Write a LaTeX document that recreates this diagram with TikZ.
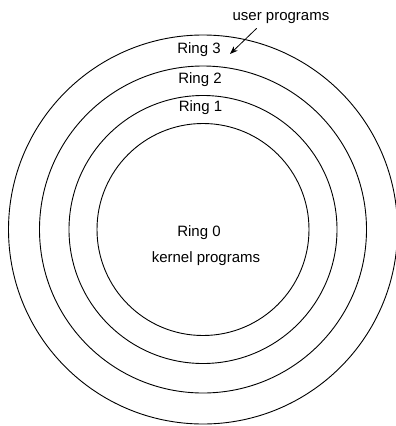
\documentclass[tikz,border=0pt]{standalone}
\usepackage{fontspec}
\setmainfont{Liberation Sans}
\usetikzlibrary{arrows.meta}
\begin{document}
\begin{tikzpicture}[x=1pt,y=-1pt,
  ring/.style={circle, draw, line width=0.9pt, inner sep=0pt},
  lbl/.style={font=\fontsize{15}{18}\selectfont, inner sep=0pt, anchor=base},
  arr/.style={-{Stealth[length=8pt,width=6pt]}, line width=0.8pt}]
\useasboundingbox (0,0) rectangle (396,426);
\node[ring, minimum size=389pt] (r3) at (203,229.5) {};
\node[ring, minimum size=327pt] (r2) at (203,229.5) {};
\node[ring, minimum size=268pt] (r1) at (203,229.5) {};
\node[ring, minimum size=212pt] (r0) at (203,229.5) {};
\node[lbl] (t3) at (199,53.5) {Ring 3};
\node[lbl] (t2) at (200,83.3) {Ring 2};
\node[lbl] (t1) at (200.5,111.7) {Ring 1};
\node[lbl] (t0) at (199,236.5) {Ring 0};
\node[lbl] (tk) at (206,262) {kernel programs};
\node[lbl] (user) at (281,20) {user programs};
\coordinate (ustart) at (256.7,28.3);
\coordinate (utip) at (230,54);
\draw[arr] (ustart) -- (utip);
\end{tikzpicture}
\end{document}
